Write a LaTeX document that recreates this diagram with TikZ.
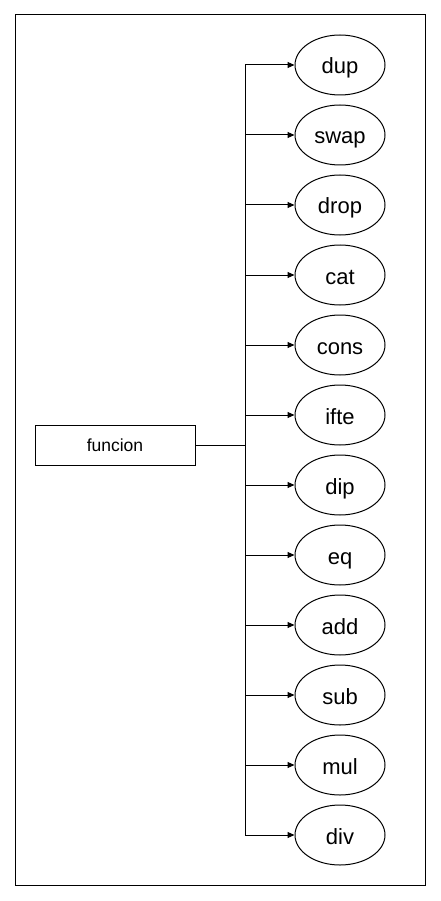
\documentclass[tikz,border=0pt]{standalone}
\usepackage{fontspec}
\setmainfont{Liberation Sans}
\usetikzlibrary{arrows.meta,shapes.geometric}
\tikzset{
  op/.style={ellipse,draw,line width=1pt,minimum width=90pt,minimum height=60pt,inner sep=0pt,text height=22pt,text depth=4pt,font=\fontsize{22}{24}\selectfont},
  fnbox/.style={rectangle,draw,line width=1pt,minimum width=160pt,minimum height=40pt,inner sep=0pt,text height=15pt,text depth=3pt,font=\fontsize{17.5}{20}\selectfont},
}
\begin{document}
\begin{tikzpicture}[x=1pt,y=-1pt,line width=1pt]
      \useasboundingbox (0,0) rectangle (441,901);
      \draw (15,15) rectangle (425,885);
      \node[fnbox] (funcion) at (115,445) {funcion};
      \coordinate (j) at (245,445);
      \draw
        (340,65) node[op] (dup){dup}
        (340,135) node[op] (swap){swap}
        (340,205) node[op] (drop){drop}
        (340,275) node[op] (cat){cat}
        (340,345) node[op] (cons){cons}
        (340,415) node[op] (ifte){ifte}
        (340,485) node[op] (dip){dip}
        (340,555) node[op] (eq){eq}
        (340,625) node[op] (add){add}
        (340,695) node[op] (sub){sub}
        (340,765) node[op] (mul){mul}
        (340,835) node[op] (div){div};
      \draw (funcion.east) -- (j);
      \begin{scope}[-{Stealth[length=7pt,width=6pt,inset=0pt]}]
        \draw (j) |- (dup.west);
        \draw (j) |- (swap.west);
        \draw (j) |- (drop.west);
        \draw (j) |- (cat.west);
        \draw (j) |- (cons.west);
        \draw (j) |- (ifte.west);
        \draw (j) |- (dip.west);
        \draw (j) |- (eq.west);
        \draw (j) |- (add.west);
        \draw (j) |- (sub.west);
        \draw (j) |- (mul.west);
        \draw (j) |- (div.west);
      \end{scope}
    \end{tikzpicture}
\end{document}
